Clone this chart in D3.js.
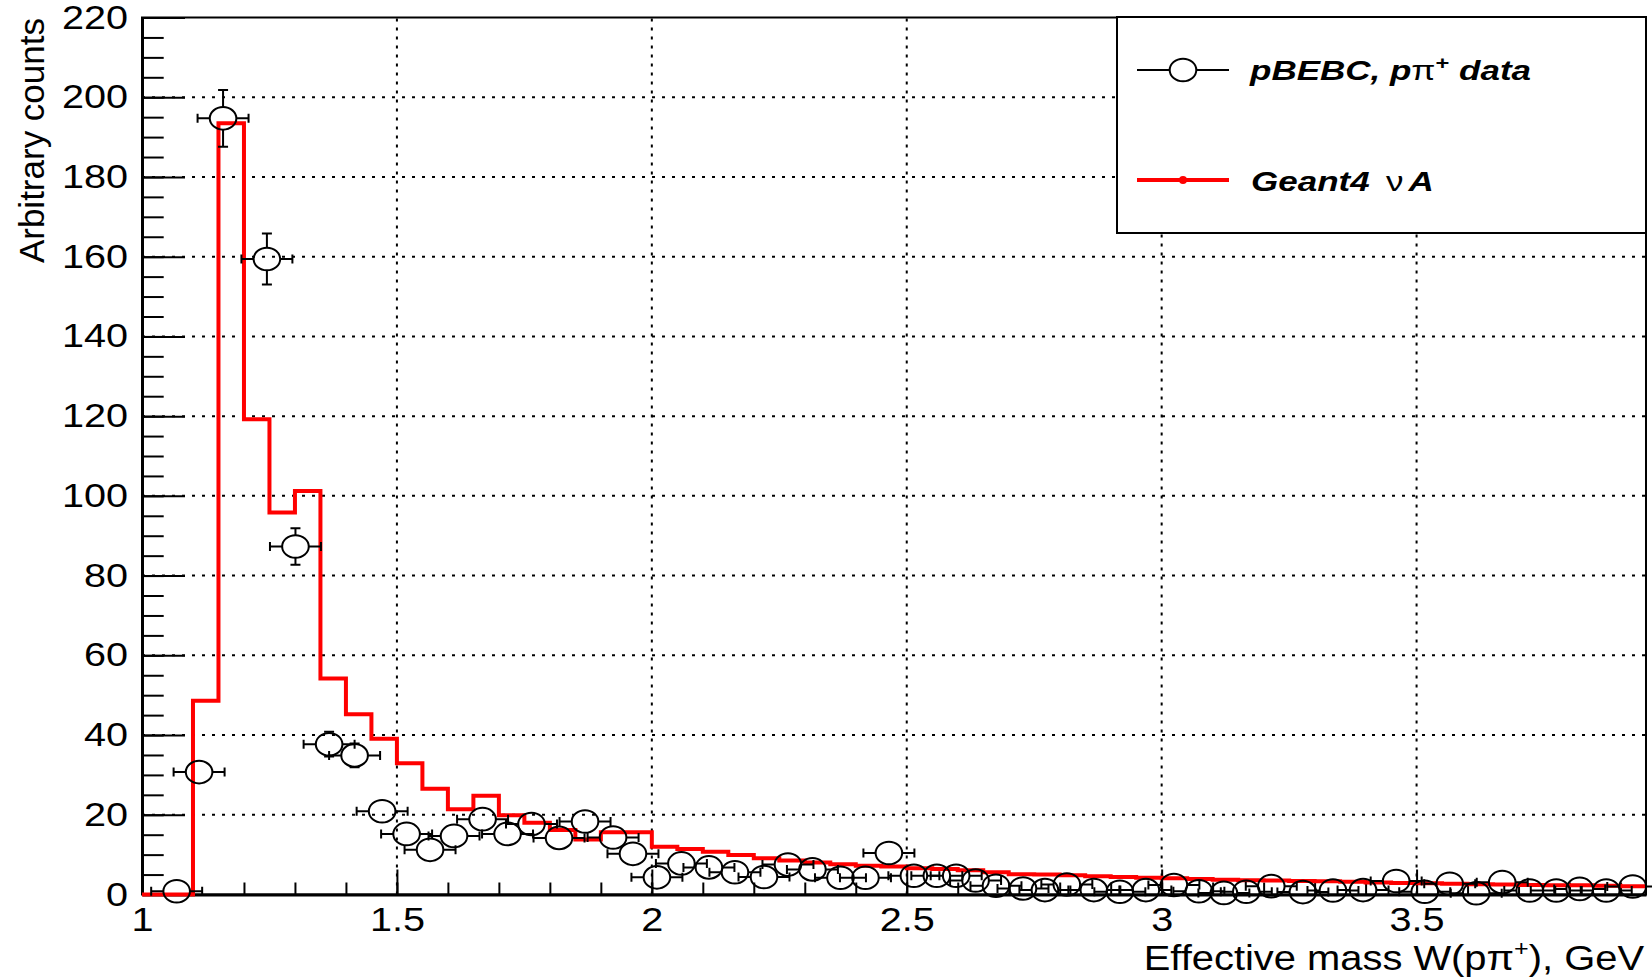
<!DOCTYPE html>
<html><head><meta charset="utf-8">
<script src="https://cdn.jsdelivr.net/npm/d3@7"></script>
<style>
body{margin:0;background:#fff;}
svg{display:block;}
text{font-family:"Liberation Sans",Arial,Helvetica,sans-serif;fill:#000;}
</style>
</head><body>
<svg id="c" width="1652" height="977"></svg>
<script>
// ---------------- DATA ----------------
// Geant4 histogram: low edges of 0.05 GeV bins and contents
const histLowEdges = [1.00,1.05,1.10,1.15,1.20,1.25,1.30,1.35,1.40,1.45,1.50,1.55,1.60,1.65,1.70,1.75,1.80,1.85,1.90,1.95,
  2.00,2.05,2.10,2.15,2.20,2.25,2.30,2.35,2.40,2.45,2.50,2.55,2.60,2.65,2.70,2.75,2.80,2.85,2.90,2.95,
  3.00,3.05,3.10,3.15,3.20,3.25,3.30,3.35,3.40,3.45,3.50,3.55,3.60,3.65,3.70,3.75,3.80,3.85,3.90];
const histValues = [0,0,48.6,193.5,119.2,95.8,101.2,54.2,45.2,39.1,32.9,26.5,21.4,24.8,19.9,18.0,16.2,13.8,15.6,15.6,
  12.0,11.4,10.7,9.9,9.1,8.5,8.0,7.6,7.2,7.0,6.6,6.4,6.1,5.6,5.1,5.0,4.8,4.6,4.4,4.2,
  4.1,3.9,3.7,3.6,3.5,3.4,3.3,3.2,3.0,2.9,2.8,2.7,2.6,2.5,2.4,2.3,2.3,2.2,2.1];
const histUpperEdge = 3.95;

// pBEBC data points
const dataX = [1.068,1.112,1.159,1.245,1.301,1.367,1.417,1.471,1.519,1.565,1.612,1.668,1.717,1.764,1.818,1.869,1.924,1.963,
  2.010,2.058,2.112,2.163,2.220,2.267,2.315,2.370,2.419,2.465,2.514,2.559,2.597,2.635,2.675,2.728,2.771,2.814,2.867,2.918,2.969,
  3.024,3.073,3.122,3.166,3.215,3.277,3.336,3.395,3.460,3.516,3.565,3.617,3.668,3.722,3.774,3.820,3.872,3.924];
const dataY = [0.8,30.7,194.7,159.4,87.3,37.7,34.9,20.9,15.2,11.2,14.7,18.9,15.2,17.7,14.2,18.3,14.3,10.2,
  4.3,7.8,6.8,5.6,4.4,7.5,6.3,4.2,4.2,10.4,4.7,4.7,4.7,3.5,2.2,1.5,1.1,2.5,1.1,0.7,1.1,
  2.4,0.8,0.4,0.7,2.1,0.6,1.0,1.1,3.4,0.7,2.7,0.3,3.1,1.0,1.0,1.4,1.0,2.0];
const dataEY = [0.5,2.8,7.1,6.4,4.6,3.1,3.0,2.3,1.9,1.7,1.9,2.2,1.9,2.1,1.9,2.1,1.9,1.6,
  1.0,1.4,1.3,1.2,1.0,1.4,1.3,1.0,1.0,1.6,1.1,1.1,1.1,0.9,0.7,0.6,0.5,0.8,0.5,0.4,0.5,
  0.8,0.4,0.3,0.4,0.7,0.4,0.5,0.5,0.9,0.4,0.8,0.3,0.9,0.5,0.5,0.6,0.5,0.7];
const dataEX = 0.05;

// axis ticks
const yMajorTicks = [0,20,40,60,80,100,120,140,160,180,200,220];
const xMajorTicks = [1,1.5,2,2.5,3,3.5];
const xTickLabels = ["1","1.5","2","2.5","3","3.5"];

const xTitle = "Effective mass W(p\u03C0";
const yTitle = "Arbitrary counts";

// ---------------- LAYOUT ----------------
const svg = d3.select('#c');
const X0 = 142, X1 = 1646, Y0 = 894.5, Y1 = 17.5;
const x = d3.scaleLinear().domain([1, 3.95]).range([X0, X1]);
const y = d3.scaleLinear().domain([0, 220]).range([Y0, Y1]);
const SX = 1.2; // horizontal glyph stretch of the original

function stretchText(sel, sx){
  sel.each(function(){
    const t = d3.select(this);
    const tx = +t.attr('x') || 0, ty = +t.attr('y') || 0;
    t.attr('x', 0).attr('y', 0).attr('transform', `translate(${tx},${ty}) scale(${sx},1)`);
  });
}

svg.append('rect').attr('width',1652).attr('height',977).attr('fill','#fff');

// grid
const grid = svg.append('g');
grid.selectAll('line.gy').data(yMajorTicks.filter(v => v > 0 && v < 220)).join('line').attr('class','gy')
  .attr('x1', X0).attr('x2', X1).attr('y1', d => y(d)).attr('y2', d => y(d))
  .attr('stroke', '#000').attr('stroke-width', 2).attr('stroke-dasharray', '3,7');
grid.selectAll('line.gx').data(xMajorTicks.filter(v => v > 1)).join('line').attr('class','gx')
  .attr('y1', Y0).attr('y2', Y1).attr('x1', d => x(d)).attr('x2', d => x(d))
  .attr('stroke', '#000').attr('stroke-width', 2).attr('stroke-dasharray', '3,6');

// axes
const gyMinor = svg.append('g').attr('transform', `translate(${X0},0)`)
  .call(d3.axisLeft(y).tickValues(d3.range(0, 221, 5)).tickSize(-21.7).tickSizeOuter(0).tickFormat(''));
gyMinor.select('.domain').remove();
const gyMajor = svg.append('g').attr('transform', `translate(${X0},0)`)
  .call(d3.axisLeft(y).tickValues(yMajorTicks).tickSize(-43).tickSizeOuter(0).tickPadding(14).tickFormat(d3.format('d')));
const gxMinor = svg.append('g').attr('transform', `translate(0,${Y0})`)
  .call(d3.axisBottom(x).tickValues(d3.range(1, 3.951, 0.1)).tickSize(-12).tickSizeOuter(0).tickFormat(''));
gxMinor.select('.domain').remove();
const gxMajor = svg.append('g').attr('transform', `translate(0,${Y0})`)
  .call(d3.axisBottom(x).tickValues(xMajorTicks).tickSize(-25).tickSizeOuter(0).tickPadding(13)
    .tickFormat((d, i) => xTickLabels[i]));

[gyMinor, gyMajor, gxMinor, gxMajor].forEach(g => {
  g.attr('font-size', 33).attr('font-family', '"Liberation Sans",Arial,sans-serif');
  g.selectAll('.tick line').attr('stroke', '#000').attr('stroke-width', 2);
  g.selectAll('.domain').attr('stroke', '#000').attr('stroke-width', 3);
});
stretchText(gyMajor.selectAll('text'), SX);
stretchText(gxMajor.selectAll('text'), SX);

// frame
svg.append('rect').attr('x', X0).attr('y', Y1).attr('width', X1 - X0).attr('height', Y0 - Y1)
  .attr('fill', 'none').attr('stroke', '#000').attr('stroke-width', 2);

// titles
const xt = svg.append('text').attr('text-anchor', 'end').attr('font-size', 35)
  .attr('transform', `translate(1644,970) scale(1.14,1)`);
xt.append('tspan').text(xTitle);
xt.append('tspan').attr('font-size', 22).attr('dy', -14).text('+');
xt.append('tspan').attr('dy', 14).text('), GeV');

svg.append('text').attr('text-anchor', 'end').attr('font-size', 35)
  .attr('transform', 'translate(44,18) rotate(-90)').text(yTitle);

// histogram
const histPts = histLowEdges.map((e, i) => [e, histValues[i]]);
histPts.push([histUpperEdge, histValues[histValues.length - 1]]);
svg.append('path').datum(histPts)
  .attr('d', d3.line().x(d => x(d[0])).y(d => y(d[1])).curve(d3.curveStepAfter))
  .attr('fill', 'none').attr('stroke', '#ff0000').attr('stroke-width', 4).attr('stroke-linejoin', 'miter');

// data points with error bars (ROOT style: bars start at marker edge)
const RX = 13.3, RY = 11.3, CAP = 5;
const pts = dataX.map((d, i) => ({x: d, y: dataY[i], ey: dataEY[i]}));
const eb = svg.append('g').attr('stroke', '#000').attr('stroke-width', 2).attr('fill', 'none');
pts.forEach(p => {
  const cx = x(p.x), cy = y(p.y);
  const yt = y(p.y + p.ey), yb = y(p.y - p.ey);
  const xl = x(p.x - dataEX), xr = x(p.x + dataEX);
  let d = '';
  if (cy - yt > RY) d += `M${cx},${cy - RY}V${yt}M${cx - CAP},${yt}H${cx + CAP}`;
  if (yb - cy > RY) d += `M${cx},${cy + RY}V${yb}M${cx - CAP},${yb}H${cx + CAP}`;
  if (cx - xl > RX) d += `M${cx - RX},${cy}H${xl}M${xl},${cy - 4.5}V${cy + 4.5}`;
  if (xr - cx > RX) d += `M${cx + RX},${cy}H${xr}M${xr},${cy - 4.5}V${cy + 4.5}`;
  if (d) eb.append('path').attr('d', d);
});
svg.append('g').selectAll('ellipse').data(pts).join('ellipse')
  .attr('cx', d => x(d.x)).attr('cy', d => y(d.y)).attr('rx', RX).attr('ry', RY)
  .attr('fill', 'none').attr('stroke', '#000').attr('stroke-width', 2);

// legend
const lg = svg.append('g');
lg.append('rect').attr('x', 1117).attr('y', 17).attr('width', 529).attr('height', 216)
  .attr('fill', '#fff').attr('stroke', '#000').attr('stroke-width', 2);
lg.append('line').attr('x1', 1137).attr('x2', 1229).attr('y1', 70).attr('y2', 70).attr('stroke', '#000').attr('stroke-width', 2);
lg.append('ellipse').attr('cx', 1183).attr('cy', 70).attr('rx', RX).attr('ry', RY)
  .attr('fill', '#fff').attr('stroke', '#000').attr('stroke-width', 2);
lg.append('line').attr('x1', 1137).attr('x2', 1229).attr('y1', 180).attr('y2', 180).attr('stroke', '#ff0000').attr('stroke-width', 4);
lg.append('circle').attr('cx', 1183).attr('cy', 180).attr('r', 4).attr('fill', '#ff0000');

const t1 = lg.append('text').attr('font-size', 28).attr('transform', 'translate(1250,80) scale(1.25,1)');
t1.append('tspan').attr('font-weight', 'bold').attr('font-style', 'italic').text('pBEBC, p');
t1.append('tspan').text('\u03C0');
t1.append('tspan').attr('font-weight', 'bold').attr('font-size', 19).attr('dy', -11).text('+');
t1.append('tspan').attr('font-weight', 'bold').attr('font-style', 'italic').attr('dy', 11).text(' data');

const t2 = lg.append('text').attr('font-size', 28).attr('transform', 'translate(1251,191) scale(1.25,1)');
t2.append('tspan').attr('font-weight', 'bold').attr('font-style', 'italic').text('Geant4');
t2.append('tspan').attr('dx', 13).text('\u03BD');
t2.append('tspan').attr('font-weight', 'bold').attr('font-style', 'italic').attr('dx', 4).text('A');
</script>
</body></html>
